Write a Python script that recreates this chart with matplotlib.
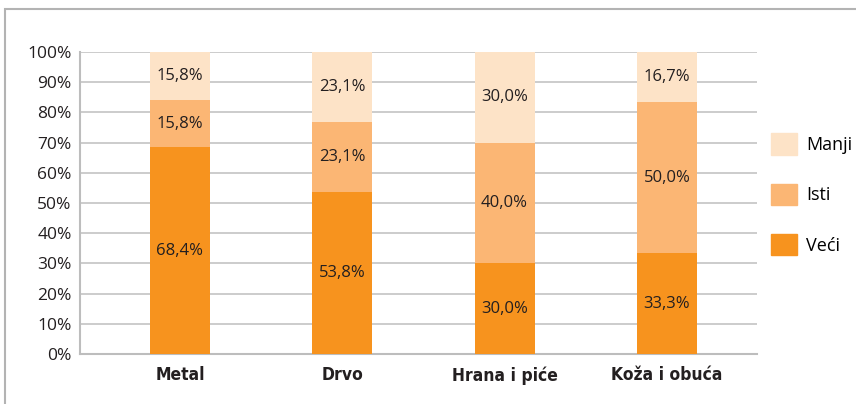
import matplotlib
matplotlib.use('Agg')
import matplotlib.pyplot as plt
from matplotlib.patches import Rectangle, Patch

categories = ['Metal', 'Drvo', 'Hrana i piće', 'Koža i obuća']
veci = [68.4, 53.8, 30.0, 33.3]
isti = [15.8, 23.1, 40.0, 50.0]
manji = [15.8, 23.1, 30.0, 16.7]
series_names = ['Veći', 'Isti', 'Manji']
colors = ['#F7931E', '#FBB674', '#FDE3C7']

plt.rcParams['font.family'] = ['Open Sans', 'DejaVu Sans']

W, H = 856, 404
fig = plt.figure(figsize=(W / 100, H / 100), dpi=100)
# outer frame of the chart box
fig.patches.append(Rectangle((5 / W, -0.1), 1.2, 1 - 9 / H + 0.1,
                             transform=fig.transFigure, fill=False,
                             edgecolor='#b3b3b3', linewidth=1.5))

ax = fig.add_axes([80 / W, 50 / H, (757 - 80) / W, (354 - 52) / H])
x = list(range(len(categories)))
bottoms = [0] * len(categories)
for vals, name, col in zip([veci, isti, manji], series_names, colors):
    ax.bar(x, vals, bottom=bottoms, width=0.37, color=col, label=name, zorder=3)
    for xi, b, v in zip(x, bottoms, vals):
        ax.text(xi, b + v / 2, '{:.1f}%'.format(v).replace('.', ','),
                ha='center', va='center', fontsize=12, color='#231f20', zorder=4)
    bottoms = [b + v for b, v in zip(bottoms, vals)]

ax.set_xlim(-0.616, 3.555)
ax.set_ylim(0, 100)
ax.set_yticks(range(0, 101, 10))
ax.set_yticklabels(['{}%'.format(i) for i in range(0, 101, 10)],
                   fontsize=12.5, color='#231f20')
ax.set_xticks(x)
ax.set_xticklabels(categories, fontsize=12.5, fontweight='bold', color='#231f20',
                   family=['DejaVu Sans'], fontstretch='condensed')
ax.tick_params(length=0, pad=6)
ax.tick_params(axis='x', pad=9)
ax.grid(axis='y', color='#c8c8c8', linewidth=1.3, zorder=0)
for s in ['top', 'right']:
    ax.spines[s].set_visible(False)
for s in ['left', 'bottom']:
    ax.spines[s].set_color('#bdbdbd')
    ax.spines[s].set_linewidth(1.5)

handles = [Patch(color=c, label=n) for c, n in zip(colors[::-1], series_names[::-1])]
fig.legend(handles=handles, loc='upper left', bbox_to_anchor=(764 / W, 1 - 126 / H),
           frameon=False, fontsize=13, handlelength=1.45, handleheight=1.45,
           labelspacing=1.6, handletextpad=0.5, borderaxespad=0)

fig.savefig('out.png', dpi=100)
